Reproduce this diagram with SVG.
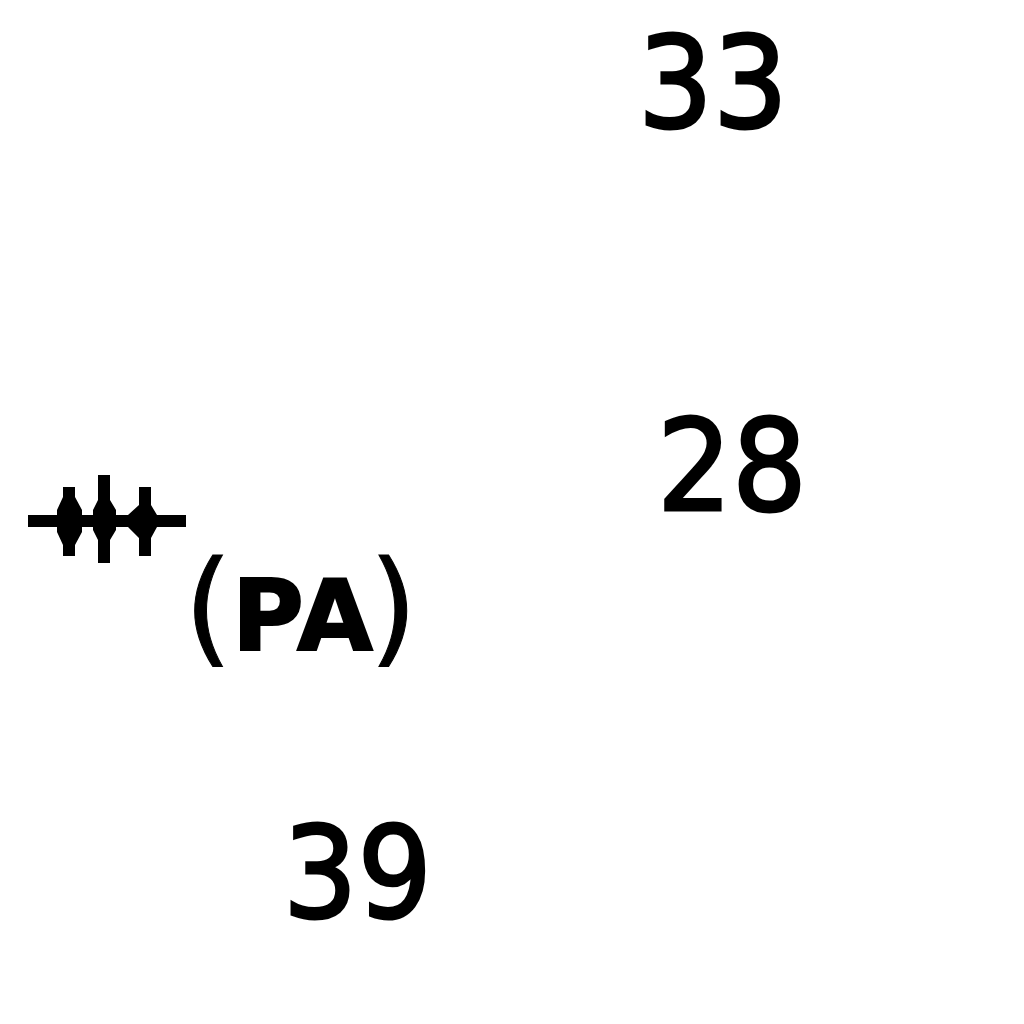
<svg xmlns="http://www.w3.org/2000/svg" width="1024" height="1024" viewBox="0 0 1024 1024"><style>.t{font-family:"DejaVu Sans","Liberation Sans",sans-serif;font-size:127px;fill:#000;stroke:#000;stroke-width:3px}.s{fill:none;stroke:#000;stroke-width:12px}.b{fill:#000}.p{font-family:"DejaVu Sans",sans-serif;font-size:98px;font-weight:700;fill:#000;stroke:#000;stroke-width:2px}.q{font-size:124px;font-weight:400;stroke-width:1px}</style><rect width="1024" height="1024" fill="#fff"/><text class="t" x="638" y="127" textLength="150" lengthAdjust="spacingAndGlyphs">33</text><text class="t" x="657" y="510" textLength="150" lengthAdjust="spacingAndGlyphs">28</text><text class="t" x="283" y="917" textLength="149" lengthAdjust="spacingAndGlyphs">39</text><g id="tick"><path class="s" d="M28 521H186M69 487V556M104 475V563M145 487V556"/><path class="b" d="M63 497H75L82 510V532L75 545H63L57 532V510ZM98 500H110L116 510V530L110 540H98L93 530V510ZM139 505H151L157 515V527L151 538H139L128 527V515Z"/></g><text class="p" y="650"><tspan class="q" x="184">(</tspan><tspan x="232">P</tspan><tspan x="297">A</tspan><tspan class="q" x="369">)</tspan></text></svg>
